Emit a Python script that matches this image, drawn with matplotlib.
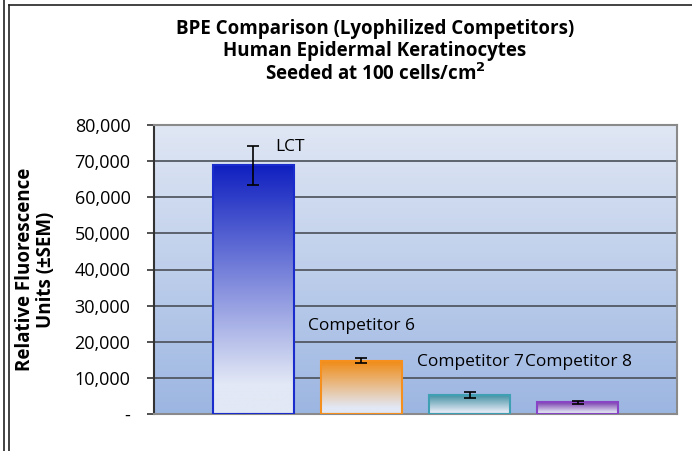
import numpy as np
import matplotlib.pyplot as plt
from matplotlib.colors import LinearSegmentedColormap
from matplotlib.lines import Line2D

plt.rcParams['font.family'] = ['Open Sans', 'DejaVu Sans']

groups = ['LCT', 'Competitor 6', 'Competitor 7', 'Competitor 8']
values = [68800, 14800, 5300, 3200]
sem = [5300, 700, 900, 500]
top_colors = ['#1020c0', '#f08a12', '#3a8c9e', '#7a3cae']
edge_colors = ['#1a2ccc', '#f5901e', '#3fa0b4', '#8844c4']
light = '#e2e8f5'
yticks = [0, 10000, 20000, 30000, 40000, 50000, 60000, 70000, 80000]
ylabels = ['-'] + ['{:,}'.format(t) for t in yticks[1:]]

fig = plt.figure(figsize=(6.92, 4.51), dpi=100)
ax = fig.add_axes([154 / 692, 1 - 414 / 451, 523 / 692, 289 / 451])

x = np.arange(len(groups))
ax.set_xlim(-0.921, 3.921)
ax.set_ylim(0, 80000)

# plot area gradient
bg = LinearSegmentedColormap.from_list('bg', ['#9cb6e2', '#e0e7f4'])
grad = np.linspace(0, 1, 256).reshape(-1, 1)
ax.imshow(grad, cmap=bg, aspect='auto', origin='lower',
          extent=[-0.921, 3.921, 0, 80000], zorder=0)

for t in yticks[1:]:
    ax.axhline(t, color='#4a4f58', lw=1.2, zorder=1)

bars = ax.bar(x, values, width=0.75, facecolor='none', zorder=3)
for b, c, ec in zip(bars, top_colors, edge_colors):
    cm = LinearSegmentedColormap.from_list('b', [(0, light), (0.12, light), (1, c)])
    im = ax.imshow(grad, cmap=cm, aspect='auto', origin='lower',
                   extent=[b.get_x(), b.get_x() + b.get_width(), 0, b.get_height()],
                   zorder=2)
    im.set_clip_path(b)
    b.set_edgecolor(ec)
    b.set_linewidth(1.5)

ax.errorbar(x, values, yerr=sem, fmt='none', ecolor='black', elinewidth=1.2,
            capsize=4, capthick=1.2, zorder=4)

label_dx = [0.2, -0.495, -0.486, -0.486]
label_y = [73900, 24400, 14400, 14400]
for i, g in enumerate(groups):
    ax.text(i + label_dx[i], label_y[i], g, fontsize=12.5, va='center', ha='left', zorder=5)

ax.set_yticks(yticks)
ax.set_yticklabels(ylabels, fontsize=13)
ax.set_xticks([])
ax.tick_params(axis='y', direction='out', length=5, width=1.2, color='#333333', pad=12)
ax.spines['left'].set_color('#333333')
ax.spines['left'].set_linewidth(1.5)
for s in ['top', 'right', 'bottom']:
    ax.spines[s].set_color('#8a8a8a')
    ax.spines[s].set_linewidth(1.5)

ax.set_ylabel('Relative Fluorescence\nUnits (±SEM)', fontsize=13.5, fontweight='bold',
              linespacing=1.05)
ax.yaxis.set_label_coords(-0.187, 0.5)

fig.text(375 / 692, 1 - 52 / 451,
         'BPE Comparison (Lyophilized Competitors)\nHuman Epidermal Keratinocytes\nSeeded at 100 cells/cm$^\\mathbf{2}$',
         ha='center', va='center', fontsize=13.5, fontweight='bold', linespacing=1.15)

# frame lines around the figure
fig.add_artist(Line2D([4 / 692, 4 / 692], [0, 1], color='#222222', lw=1.2))
fig.add_artist(Line2D([9 / 692, 9 / 692], [0, 1 - 5 / 451], color='#222222', lw=1.2))
fig.add_artist(Line2D([9 / 692, 1], [1 - 5 / 451, 1 - 5 / 451], color='#222222', lw=1.2))

fig.savefig('out.png', dpi=100)
